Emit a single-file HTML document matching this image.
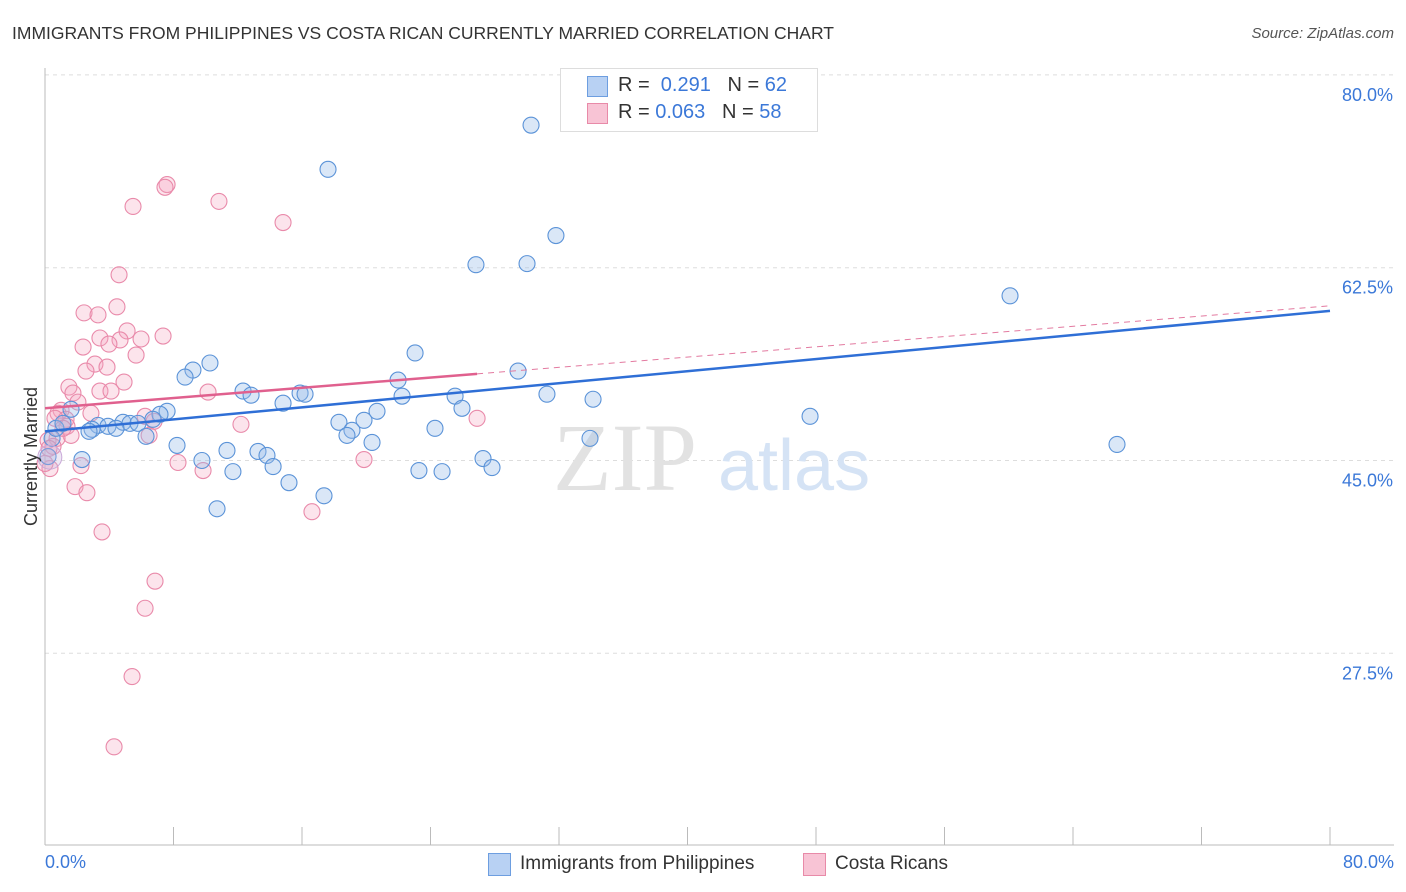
<!DOCTYPE html>
<html><head><meta charset="utf-8">
<style>
body{margin:0;background:#fff;font-family:"Liberation Sans",sans-serif;}
#wrap{position:relative;width:1406px;height:892px;overflow:hidden;}
.t{position:absolute;white-space:nowrap;}
</style></head>
<body>
<div id="wrap">
<div class="t" style="left:12px;top:23px;font-size:17.5px;color:#333;">IMMIGRANTS FROM PHILIPPINES VS COSTA RICAN CURRENTLY MARRIED CORRELATION CHART</div>
<div class="t" style="right:12px;top:25px;font-size:15px;color:#555;font-style:italic;">Source: ZipAtlas.com</div>
<svg id="svg" width="1406" height="892" style="position:absolute;left:0;top:0"></svg>
</div>
<script>
const xMin=0,xMax=80,yMin=10.1,yMax=86.8;
const yTicks=[27.5,45,62.5,80];
const yTickLabels=["27.5%","45.0%","62.5%","80.0%"];
const xTickVals=[0,8,16,24,32,40,48,56,64,72,80];
const blueX=[30.26,17.62,31.81,26.83,30.01,60.08,23.04,10.27,9.21,8.72,29.45,21.98,12.33,12.83,15.88,16.19,14.82,22.23,25.53,31.25,34.12,25.96,20.67,7.60,7.16,6.72,47.63,18.30,19.86,4.86,5.29,5.79,3.30,3.92,4.42,2.93,2.74,24.28,19.11,18.80,6.29,33.93,20.36,66.74,8.22,11.33,13.26,13.82,2.30,9.77,27.27,14.20,11.70,23.28,24.72,27.83,15.19,17.37,10.71,0.44,0.68,1.12,0.19,1.62];
const blueY=[75.44,71.43,65.42,62.77,62.87,59.95,54.76,53.85,53.21,52.57,53.12,52.30,51.30,50.93,51.12,51.02,50.20,50.84,50.84,51.02,50.56,49.74,49.47,49.47,49.19,48.74,49.01,48.47,48.65,48.47,48.37,48.37,48.19,48.10,47.92,47.83,47.65,47.92,47.74,47.28,47.19,47.01,46.64,46.46,46.37,45.91,45.82,45.46,45.09,45.00,45.18,44.45,43.99,44.09,43.99,44.36,42.99,41.80,40.62,47.01,47.92,48.37,45.36,49.65];
const pinkX=[7.60,7.47,10.83,5.48,14.82,4.61,4.48,2.43,3.30,5.11,3.42,7.35,5.98,4.67,3.98,2.37,5.67,3.11,3.86,2.55,4.92,1.49,3.42,4.11,10.15,1.74,2.05,1.00,2.86,6.23,0.81,1.31,6.79,12.20,26.90,1.37,1.62,6.48,0.75,0.19,0.50,19.86,8.28,9.84,2.24,1.87,2.61,16.62,3.55,6.85,6.23,5.42,4.30,0.31,0.25,0.62,1.12,0];
const pinkY=[70.05,69.80,68.52,68.06,66.60,61.86,58.95,58.40,58.22,56.76,56.12,56.30,56.03,55.94,55.57,55.30,54.57,53.75,53.48,53.12,52.12,51.66,51.30,51.30,51.21,51.12,50.30,49.56,49.29,49.01,49.29,48.74,48.56,48.28,48.83,48.10,47.28,47.28,47.01,46.82,46.28,45.09,44.82,44.09,44.54,42.63,42.08,40.35,38.52,34.05,31.59,25.39,19.01,44.27,46.10,48.83,47.92,44.73];
const blueTrend=[47.64,58.58]; // y at x=0 and x=80
const pinkTrend=[49.74,59.04];
const pinkSolidEnd=26.9;

const L=45,R=1330,T=0,B=845;
const sx=v=>L+(v-xMin)/(xMax-xMin)*(R-L);
const sy=v=>B-(v-yMin)/(yMax-yMin)*(B-T);
const svg=document.getElementById('svg');
const NS='http://www.w3.org/2000/svg';
function mk(tag,attrs,name){const e=document.createElementNS(NS,tag);for(const k in attrs)e.setAttribute(k,attrs[k]);


svg.appendChild(e);return e;}
// gridlines
yTicks.forEach((v,i)=>{
 mk('line',{x1:L,x2:1394,y1:sy(v),y2:sy(v),stroke:'#ddd','stroke-dasharray':'4,4'},'y-gridline');
 const t=mk('text',{x:1393,y:sy(v)+26,'text-anchor':'end','font-size':'18',fill:'#3b78d8','font-family':'Liberation Sans'},'y-tick-label');
 t.textContent=yTickLabels[i];
});
mk('line',{x1:L,x2:L,y1:68,y2:B,stroke:'#bbb'},'y-axis');
mk('line',{x1:L,x2:1394,y1:B,y2:B,stroke:'#bbb'},'x-axis');
xTickVals.forEach(v=>{mk('line',{x1:sx(v),x2:sx(v),y1:B,y2:B-18,stroke:'#bbb'},'x-tick');});
// watermark
const w1=mk('text',{x:553,y:490,'font-size':'96','font-family':'Liberation Serif',fill:'#e2e2e2'},'watermark-zip');w1.textContent='ZIP';
const w2=mk('text',{x:718,y:490,'font-size':'72','font-family':'Liberation Sans',fill:'#d5e3f5'},'watermark-atlas');w2.textContent='atlas';
// points
pinkX.forEach((x,i)=>{mk('circle',{cx:sx(x),cy:sy(pinkY[i]),r:8,fill:'rgba(244,166,192,0.3)',stroke:'#e98aaa','stroke-width':1.1},'pink-point');});
blueX.forEach((x,i)=>{mk('circle',{cx:sx(x),cy:sy(blueY[i]),r:8,fill:'rgba(150,186,232,0.35)',stroke:'#5b93d8','stroke-width':1.1},'blue-point');});
mk('circle',{cx:sx(0.3),cy:sy(45.3),r:12,fill:'rgba(200,180,220,0.3)',stroke:'#c9a8d8','stroke-width':1},'overlap-point');
// trends
const pe=pinkTrend[0]+(pinkTrend[1]-pinkTrend[0])*pinkSolidEnd/80;
mk('line',{x1:sx(pinkSolidEnd),y1:sy(pe),x2:sx(80),y2:sy(pinkTrend[1]),stroke:'#e37aa0','stroke-width':1,'stroke-dasharray':'6,5'},'pink-trend-dashed');
mk('line',{x1:sx(0),y1:sy(pinkTrend[0]),x2:sx(pinkSolidEnd),y2:sy(pe),stroke:'#e0608e','stroke-width':2.5},'pink-trend-line');
mk('line',{x1:sx(0),y1:sy(blueTrend[0]),x2:sx(80),y2:sy(blueTrend[1]),stroke:'#2f6fd6','stroke-width':2.5},'blue-trend-line');
</script>
<div class="t" style="left:-38px;top:446px;font-size:18px;color:#333;transform:rotate(-90deg);">Currently Married</div>
<div class="t" style="left:45px;top:852px;font-size:18px;color:#3b78d8;">0.0%</div>
<div class="t" style="right:12px;top:852px;font-size:18px;color:#3b78d8;">80.0%</div>
<div style="position:absolute;left:560px;top:68px;width:256px;height:62px;border:1px solid #ddd;background:#fff;"></div>
<div style="position:absolute;left:587px;top:76px;width:19px;height:19px;background:#b8d1f3;border:1px solid #6d9ee0;"></div>
<div style="position:absolute;left:587px;top:103px;width:19px;height:19px;background:#f8c4d5;border:1px solid #e88aa8;"></div>
<div class="t" style="left:618px;top:74px;font-size:20px;color:#333;">R = &nbsp;<span style="color:#3b78d8">0.291</span> &nbsp;&nbsp;N = <span style="color:#3b78d8">62</span></div>
<div class="t" style="left:618px;top:101px;font-size:20px;color:#333;">R = <span style="color:#3b78d8">0.063</span> &nbsp;&nbsp;N = <span style="color:#3b78d8">58</span></div>
<div style="position:absolute;left:488px;top:853px;width:21px;height:21px;background:#b8d1f3;border:1px solid #6d9ee0;"></div>
<div class="t" style="left:520px;top:853px;font-size:19px;color:#333;">Immigrants from Philippines</div>
<div style="position:absolute;left:803px;top:853px;width:21px;height:21px;background:#f8c4d5;border:1px solid #e88aa8;"></div>
<div class="t" style="left:835px;top:853px;font-size:19px;color:#333;">Costa Ricans</div>
</body></html>
